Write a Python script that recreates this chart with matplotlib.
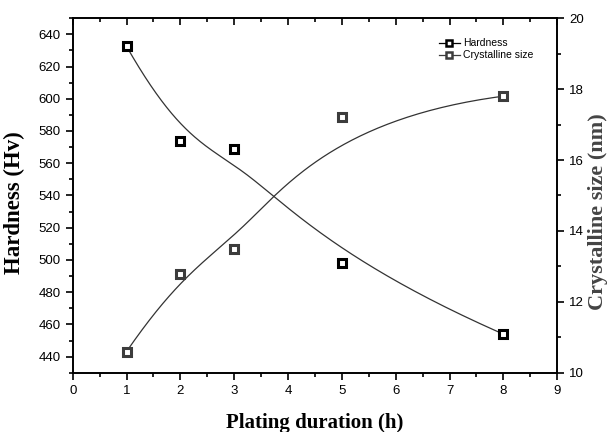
#!/usr/bin/env python3
# hardness / crystalline size vs plating duration, twin y axes

import numpy as np
import matplotlib.pyplot as plt
from matplotlib.ticker import MultipleLocator

duration = [1, 2, 3, 5, 8]
hardness = [632.5, 574, 569, 498, 454]
cryst_size = [10.6, 12.8, 13.5, 17.2, 17.8]

plt.rcParams["font.family"] = ["Liberation Sans", "DejaVu Sans"]


def bspline(xs, ys, k=3, n=200):
    # clamped uniform B-spline using the data points as control points
    px = np.asarray(xs, float)
    py = np.asarray(ys, float)
    m = len(px)
    inner = np.linspace(0, 1, m - k + 1)[1:-1]
    knots = np.concatenate([np.zeros(k + 1), inner, np.ones(k + 1)])
    t = np.linspace(0, 1, n)
    t[-1] -= 1e-9

    def basis(i, d, t):
        if d == 0:
            return ((knots[i] <= t) & (t < knots[i + 1])).astype(float)
        a = b = 0.0
        if knots[i + d] != knots[i]:
            a = (t - knots[i]) / (knots[i + d] - knots[i]) * basis(i, d - 1, t)
        if knots[i + d + 1] != knots[i + 1]:
            b = (knots[i + d + 1] - t) / (knots[i + d + 1] - knots[i + 1]) * basis(i + 1, d - 1, t)
        return a + b

    B = np.array([basis(i, k, t) for i in range(m)])
    return B.T @ px, B.T @ py


def main():
    fig = plt.figure(figsize=(6.11, 4.32), dpi=100)
    ax = fig.add_axes([0.119, 0.137, 0.793, 0.821])
    ax2 = ax.twinx()

    c2 = "#3c3c3c"

    sx, sy = bspline(duration, hardness)
    ax.plot(sx, sy, color="#333333", lw=0.9, zorder=2)
    ax.plot(duration, hardness, ls="none", marker="s", ms=5.8, mfc="white",
            mec="black", mew=2.2, zorder=3)

    cx, cy = bspline(duration, cryst_size)
    ax2.plot(cx, cy, color="#333333", lw=0.9, zorder=2)
    ax2.plot(duration, cryst_size, ls="none", marker="s", ms=5.8, mfc="white",
             mec=c2, mew=2.2, zorder=3)

    # legend entries
    ax.plot([], [], color="black", lw=0.9, marker="s", ms=5, mfc="white",
            mec="black", mew=1.8, label="Hardness")
    ax.plot([], [], color=c2, lw=0.9, marker="s", ms=5, mfc="white",
            mec=c2, mew=1.8, label="Crystalline size")
    ax.legend(loc="upper right", bbox_to_anchor=(0.97, 0.97), frameon=False,
              fontsize=7.5, handlelength=2.0, handletextpad=0.3,
              labelspacing=0.2)

    ax.set_xlim(0, 9)
    ax.set_ylim(430, 650)
    ax2.set_ylim(10, 20)

    ax.xaxis.set_major_locator(MultipleLocator(1))
    ax.xaxis.set_minor_locator(MultipleLocator(0.5))
    ax.yaxis.set_major_locator(MultipleLocator(20))
    ax.yaxis.set_minor_locator(MultipleLocator(10))
    ax2.yaxis.set_major_locator(MultipleLocator(2))
    ax2.yaxis.set_minor_locator(MultipleLocator(1))

    ax.tick_params(axis="x", which="both", direction="out", top=True)
    ax.tick_params(axis="y", which="both", direction="out")
    ax.tick_params(which="major", length=5, width=1.2, labelsize=9.5)
    ax.tick_params(which="minor", length=3, width=1.2)
    ax2.tick_params(which="major", direction="out", length=5, width=1.2,
                    labelsize=9.5)
    ax2.tick_params(which="minor", direction="out", length=3, width=1.2)

    # top ticks point inward
    for t in ax.xaxis.get_major_ticks() + ax.xaxis.get_minor_ticks():
        t.tick2line.set_marker(3)

    for a in (ax, ax2):
        for s in a.spines.values():
            s.set_linewidth(1.2)

    ax.set_xlabel("Plating duration (h)", family="Liberation Serif",
                  fontweight="bold", fontsize=15, labelpad=12)
    ax.set_ylabel("Hardness (Hv)", family="Liberation Serif",
                  fontweight="bold", fontsize=16.5)
    ax.yaxis.set_label_coords(-0.098, 0.48)
    ax2.set_ylabel("Crystalline size (nm)", family="Liberation Serif",
                   fontweight="bold", fontsize=16, color="#444444")
    ax2.yaxis.set_label_coords(1.064, 0.455)

    fig.savefig("out.png", dpi=100)


if __name__ == "__main__":
    main()
